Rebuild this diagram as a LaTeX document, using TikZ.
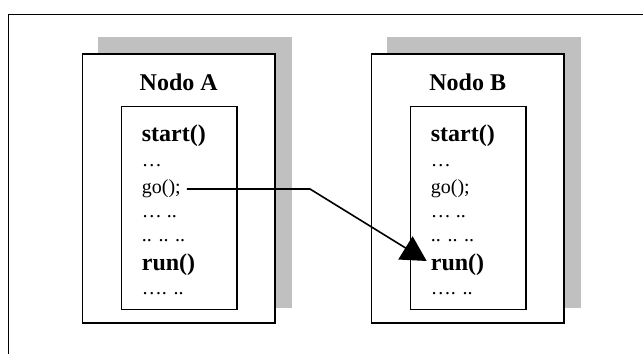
\documentclass[tikz,border=0pt]{standalone}
\usepackage{fontspec}
\setmainfont{Liberation Serif}
\usetikzlibrary{arrows.meta,calc,backgrounds}
\definecolor{shadowgray}{RGB}{192,192,192}

\begin{document}
\begin{tikzpicture}[x=1pt, y=-1pt,
  box/.style={draw, line width=1.8pt, fill=white, inner sep=0pt,
    minimum width=192.6pt, minimum height=268.7pt},
  codebox/.style={draw, line width=1.5pt, inner sep=0pt,
    minimum width=115.5pt, minimum height=203.3pt},
  titel/.style={font=\fontsize{24}{28}\selectfont\bfseries, inner sep=0pt, anchor=base},
  proc/.style={font=\fontsize{24}{28}\selectfont\bfseries, inner xsep=4pt, inner ysep=0pt,
    text height=21pt, text depth=3pt, anchor=base west},
  code/.style={font=\fontsize{20}{24}\selectfont, inner xsep=6pt, inner ysep=0pt,
    text height=14pt, text depth=6pt, anchor=base west},
  conn/.style={line width=1.6pt, -{Triangle[length=25pt, width=27pt]}}]
  \useasboundingbox (0,0) rectangle (643,354);

  % Rahmen, nur links und oben sichtbar
  \draw[line width=1pt] (8,354) |- (643,14);

  \foreach \n/\dx in {A/0, B/289} {
    \node[box] (nodo\n) at (178.7+\dx, 188.5) {};
    \node[codebox] (code\n) at (179.3+\dx, 208) {};
    \node[titel] (titel\n) at (nodo\n.center |- 0,90) {Nodo \n};

    \node[proc] (start\n) at (137.7+\dx, 141) {start()};
    \node[code] (punkte\n) at (135.7+\dx, 166) {…};
    \node[code] (go\n)     at (135.7+\dx, 193) {go();};
    \node[code] (zeileA\n) at (135.7+\dx, 217) {… ..};
    \node[code] (zeileB\n) at (135.7+\dx, 241) {.. .. ..};
    \node[proc] (run\n)    at (137.7+\dx, 270) {run()};
    \node[code] (ende\n)   at (135.7+\dx, 294) {…. ..};
  }

  % Schatten hinter den Knoten
  \begin{scope}[on background layer]
    \fill[shadowgray] ($(nodoA.north west)+(16,-16)$) rectangle ($(nodoA.south east)+(16,-16)$);
    \fill[shadowgray] ($(nodoB.north west)+(16,-16)$) rectangle ($(nodoB.south east)+(16,-16)$);
  \end{scope}

  % Aufruf go() -> run()
  \coordinate (knick) at (goA.east -| 310,0);
  \draw[conn] (goA.east) -- (knick) -- (runB.west);
\end{tikzpicture}
\end{document}
